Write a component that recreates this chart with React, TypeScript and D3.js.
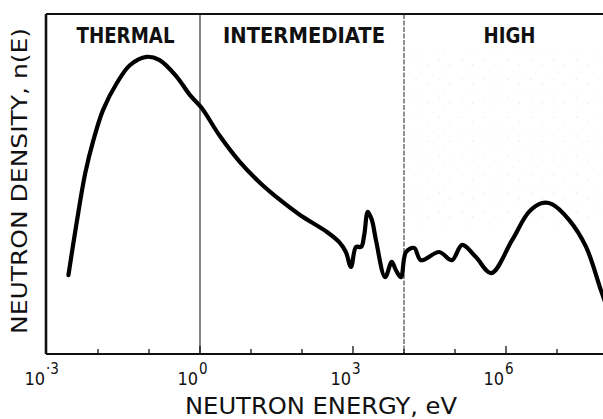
import * as d3 from "d3";

// chart size (window is 603x419)
const W = 603;
const H = 419;

// energy decades shown on the axis (log10 eV)
const decades = [-2, -1, 0, 1, 2, 3, 4, 5, 6, 7];
const labelledDecades = [-3, 0, 3, 6];

// region boundaries (log10 eV) and their names
const regionEdges = [-3, 0, 4, 8];
const regionNames = ["THERMAL", "INTERMEDIATE", "HIGH"];
const regionLabelWidths = [98, 162, 52];

// neutron spectrum: log10(E) and relative density (0..100)
const logE = [
  -2.58, -2.42, -2.25, -2.09, -1.9, -1.63, -1.37, -1.05, -0.8, -0.46, -0.2,
  0.03, 0.39, 0.78, 1.18, 1.57, 1.96, 2.49, 2.73, 2.86, 2.96, 3.06, 3.16, 3.22,
  3.29, 3.37, 3.45, 3.63, 3.76, 3.84, 3.94, 4.04, 4.2, 4.33, 4.69, 4.94, 5.14,
  5.41, 5.71, 6.12, 6.45, 6.71, 6.9, 7.24, 7.57, 7.86, 8.0,
];
const density = [
  23.2, 38.5, 53.2, 62.9, 71.8, 79.7, 85.0, 87.4, 86.5, 81.6, 76.2, 72.4, 64.1,
  56.5, 50.3, 45.3, 40.9, 35.9, 32.9, 30.0, 25.6, 31.5, 31.5, 35.0, 41.8, 39.4,
  33.5, 22.6, 27.1, 24.7, 22.6, 30.0, 31.2, 27.6, 30.0, 27.6, 32.1, 28.5, 23.8,
  33.5, 41.8, 44.4, 44.1, 39.4, 31.5, 18.8, 13.0,
];

const FONT = "'DejaVu Sans Condensed', 'DejaVu Sans', sans-serif";

export default function App() {
  const x = d3.scaleLinear().domain([-3, 8]).range([47, 608]);
  const y = d3.scaleLinear().domain([0, 100]).range([354, 14]);

  const line = d3
    .line<number>()
    .x((_, i) => x(logE[i]))
    .y((d) => y(d))
    .curve(d3.curveCatmullRom.alpha(0.5));

  const top = y(100);
  const bottom = y(0);

  return (
    <svg
      width={W}
      height={H}
      style={{ position: "absolute", left: 0, top: 0, background: "#fff" }}
    >
      <defs>
        <pattern id="speckle" width="23" height="19" patternUnits="userSpaceOnUse">
          <circle cx="2" cy="3" r="0.6" fill="#888" />
          <circle cx="13" cy="8" r="0.6" fill="#888" />
          <circle cx="7" cy="15" r="0.5" fill="#aaa" />
          <circle cx="19" cy="17" r="0.4" fill="#999" />
        </pattern>
      </defs>

      {/* faint scanner speckle in the high-energy band */}
      <rect
        x={x(4) + 4}
        y={y(90)}
        width={x(8) - x(4)}
        height={y(38) - y(90)}
        fill="url(#speckle)"
        opacity={0.35}
      />

      {/* frame */}
      <line x1={x(-3) - 1} x2={W} y1={top} y2={top} stroke="#111" strokeWidth={2.2} />
      <line x1={x(-3) - 1} x2={x(-3) - 1} y1={top} y2={bottom} stroke="#111" strokeWidth={2.6} />
      <line x1={x(-3) - 1} x2={W} y1={bottom} y2={bottom} stroke="#111" strokeWidth={2} />

      {/* region dividers */}
      <line x1={x(0)} x2={x(0)} y1={top} y2={bottom} stroke="#222" strokeWidth={1.1} />
      <line
        x1={x(4)}
        x2={x(4)}
        y1={top}
        y2={bottom}
        stroke="#222"
        strokeWidth={1}
        strokeDasharray="5 1.5"
      />

      {/* region names */}
      {regionNames.map((name, i) => (
        <text
          key={name}
          x={(x(regionEdges[i]) + Math.min(x(regionEdges[i + 1]), W)) / 2 + (i === 2 ? 6 : 2)}
          y={43}
          textAnchor="middle"
          fontFamily={FONT}
          fontWeight="bold"
          fontSize={21}
          textLength={regionLabelWidths[i]}
          lengthAdjust="spacingAndGlyphs"
          fill="#111"
        >
          {name}
        </text>
      ))}

      {/* decade ticks */}
      {decades.map((d) => (
        <line
          key={d}
          x1={x(d)}
          x2={x(d)}
          y1={bottom}
          y2={bottom - (d % 3 === 0 ? 8 : 5)}
          stroke="#111"
          strokeWidth={1.3}
        />
      ))}

      {/* tick labels 10^n */}
      {labelledDecades.map((d) => (
        <g key={d} fontFamily={FONT} fill="#111">
          <text x={x(d) - 2} y={385} textAnchor="end" fontSize={18}>
            10
          </text>
          <text x={x(d) - 1} y={374} textAnchor="start" fontSize={15}>
            {d < 0 ? "·" + Math.abs(d) : d}
          </text>
        </g>
      ))}

      {/* spectrum */}
      <path
        d={line(density) ?? ""}
        fill="none"
        stroke="#000"
        strokeWidth={4.2}
        strokeLinejoin="round"
        strokeLinecap="round"
      />

      {/* axis titles */}
      <text
        x={321}
        y={414}
        textAnchor="middle"
        fontFamily={FONT}
        fontSize={23}
        textLength={272}
        lengthAdjust="spacingAndGlyphs"
        fill="#111"
      >
        NEUTRON ENERGY, eV
      </text>
      <text
        transform={`translate(27, 181) rotate(-90)`}
        textAnchor="middle"
        fontFamily={FONT}
        fontSize={21}
        textLength={306}
        lengthAdjust="spacingAndGlyphs"
        fill="#111"
      >
        NEUTRON DENSITY, n(E)
      </text>
    </svg>
  );
}
